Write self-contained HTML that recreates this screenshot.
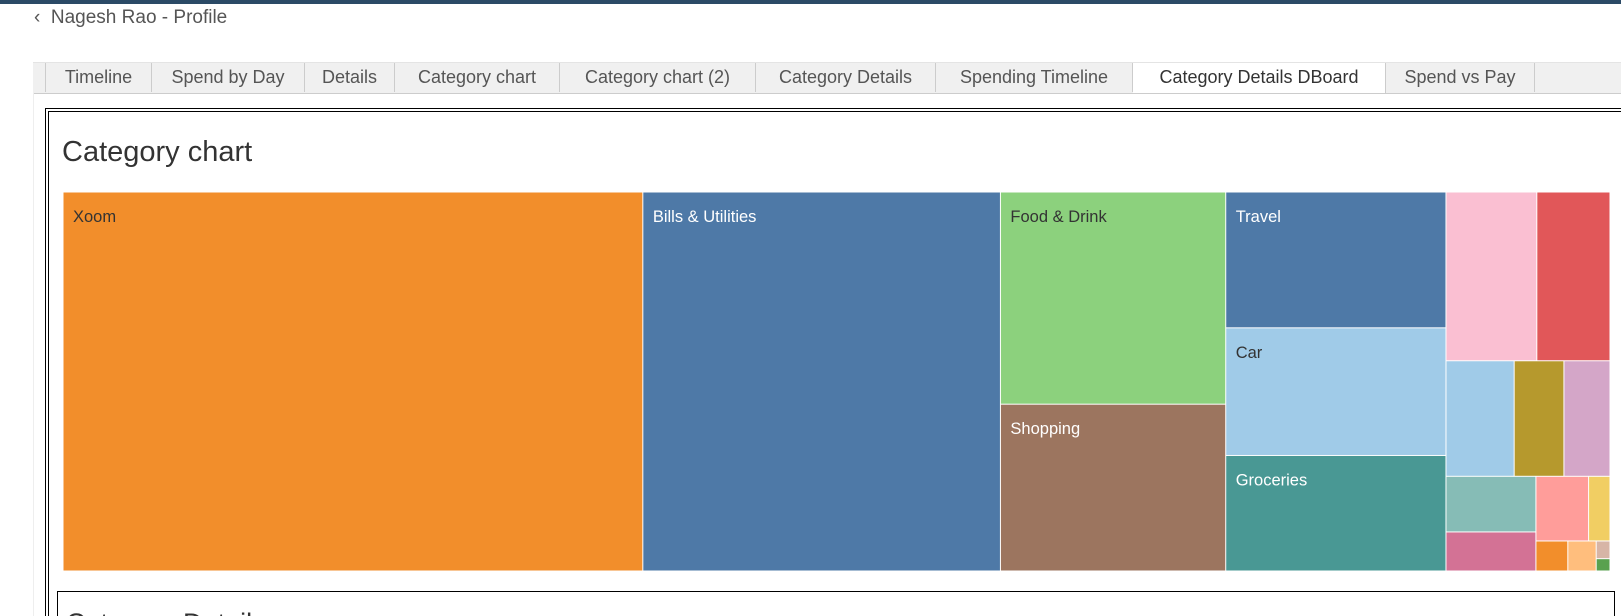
<!DOCTYPE html>
<html><head><meta charset="utf-8">
<style>
html,body{margin:0;width:1621px;height:616px;overflow:hidden;background:#fff;font-family:"Liberation Sans",sans-serif}
#wrap{position:relative;width:1621px;height:616px;overflow:hidden}
.abs{position:absolute}
.tab{position:absolute;top:63px;height:29px;border-right:1px solid #ccc;background:#f0f0f0;color:#555;font-size:18px;line-height:29px;text-align:center;box-sizing:border-box;white-space:nowrap}
</style></head><body><div id="wrap">
<div class="abs" style="left:0;top:0;width:1621px;height:4px;background:#2b4a66"></div>
<div class="abs" style="left:34px;top:5px;font-size:19px;color:#555;line-height:26px">&#8249;&nbsp; Nagesh Rao - Profile</div>
<div class="abs" style="left:33px;top:62px;width:1588px;height:30px;background:#f0f0f0;border-top:1px solid #e4e4e4;border-bottom:1px solid #ccc"></div>
<div class="abs" style="left:33px;top:93px;width:1px;height:523px;background:#eee"></div>
<div class="tab" style="left:45px;width:107px;border-left:1px solid #ccc">Timeline</div>
<div class="tab" style="left:152px;width:153px">Spend by Day</div>
<div class="tab" style="left:305px;width:90px">Details</div>
<div class="tab" style="left:395px;width:165px">Category chart</div>
<div class="tab" style="left:560px;width:196px">Category chart (2)</div>
<div class="tab" style="left:756px;width:180px">Category Details</div>
<div class="tab" style="left:936px;width:197px">Spending Timeline</div>
<div class="tab" style="left:1133px;width:253px;background:#fff;color:#333;height:30px">Category Details DBoard</div>
<div class="tab" style="left:1386px;width:149px">Spend vs Pay</div>
<div class="abs" style="left:45px;top:108px;width:1576px;height:508px;border:4px double #000;border-right:none;border-bottom:none;box-sizing:border-box"></div>
<div class="abs" style="left:62px;top:132px;font-size:29px;color:#333;line-height:40px">Category chart</div>
<svg class="abs" id="tm" style="left:0;top:0" width="1621" height="616"></svg>
<div class="abs" style="left:57px;top:591px;width:1558px;height:25px;border:1px solid #000;border-bottom:none;box-sizing:border-box;overflow:hidden">
<div class="abs" style="left:8px;top:14px;font-size:27px;color:#333;line-height:34px;white-space:nowrap">Category Details</div>
</div>
<script>
const categories=["Xoom","Bills & Utilities","Food & Drink","Shopping","Travel","Car","Groceries","Cat8","Cat9","Cat10","Cat11","Cat12","Cat13","Cat14","Cat15","Cat16","Cat17","Cat18","Cat19","Cat20"];
const values=[2064,1273,449,353,281,264,239,144,116,74,54,50,47,33,32,13,9,8,2.3,1.6];
const colors=["#f28e2b","#4e79a7","#8cd17d","#9c755f","#4e79a7","#a0cbe8","#499894","#fabfd2","#e15759","#a0cbe8","#b6992d","#d4a6c8","#86bcb6","#d37295","#ff9d9a","#f1ce63","#f28e2b","#ffbe7d","#d7b5a6","#59a14f"];
const darkLabel=[0,2,5];
const showLabel=[0,1,2,3,4,5,6];
const tree={d:'h',c:[0,1,{d:'v',c:[2,3]},{d:'v',c:[4,5,6]},{d:'v',c:[{d:'h',c:[7,8]},{d:'h',c:[9,10,11]},{d:'h',c:[{d:'v',c:[12,13]},{d:'v',c:[{d:'h',c:[14,15]},{d:'h',c:[16,17,{d:'v',c:[18,19]}]}]}]}]}]};
const X0=63,Y0=192,W=1547,H=379;
const svg=document.getElementById('tm');
const NS='http://www.w3.org/2000/svg';
function sum(n){return typeof n==='number'?values[n]:n.c.reduce((a,b)=>a+sum(b),0);}
function lay(n,x,y,w,h){
  if(typeof n==='number'){draw(n,x,y,w,h);return;}
  const t=sum(n);let o=0;
  n.c.forEach(ch=>{const f=sum(ch)/t;
    if(n.d==='h'){lay(ch,x+o,y,w*f,h);o+=w*f;}else{lay(ch,x,y+o,w,h*f);o+=h*f;}});
}
function draw(i,x,y,w,h){
  const r=document.createElementNS(NS,'rect');
  r.setAttribute('x',x+0.5);r.setAttribute('y',y+0.5);
  r.setAttribute('width',Math.max(0,w-1));r.setAttribute('height',Math.max(0,h-1));
  r.setAttribute('fill',colors[i]);
  
  
  svg.appendChild(r);
  if(showLabel.includes(i)){
    const t=document.createElementNS(NS,'text');
    t.setAttribute('x',x+10);t.setAttribute('y',y+30);
    t.setAttribute('font-size','16.5');t.setAttribute('font-family','Liberation Sans, sans-serif');
    t.setAttribute('fill',darkLabel.includes(i)?'#333':'#fff');
    t.textContent=categories[i];
    
    
    svg.appendChild(t);
  }
}
lay(tree,X0,Y0,W,H);
</script>
</div></body></html>
